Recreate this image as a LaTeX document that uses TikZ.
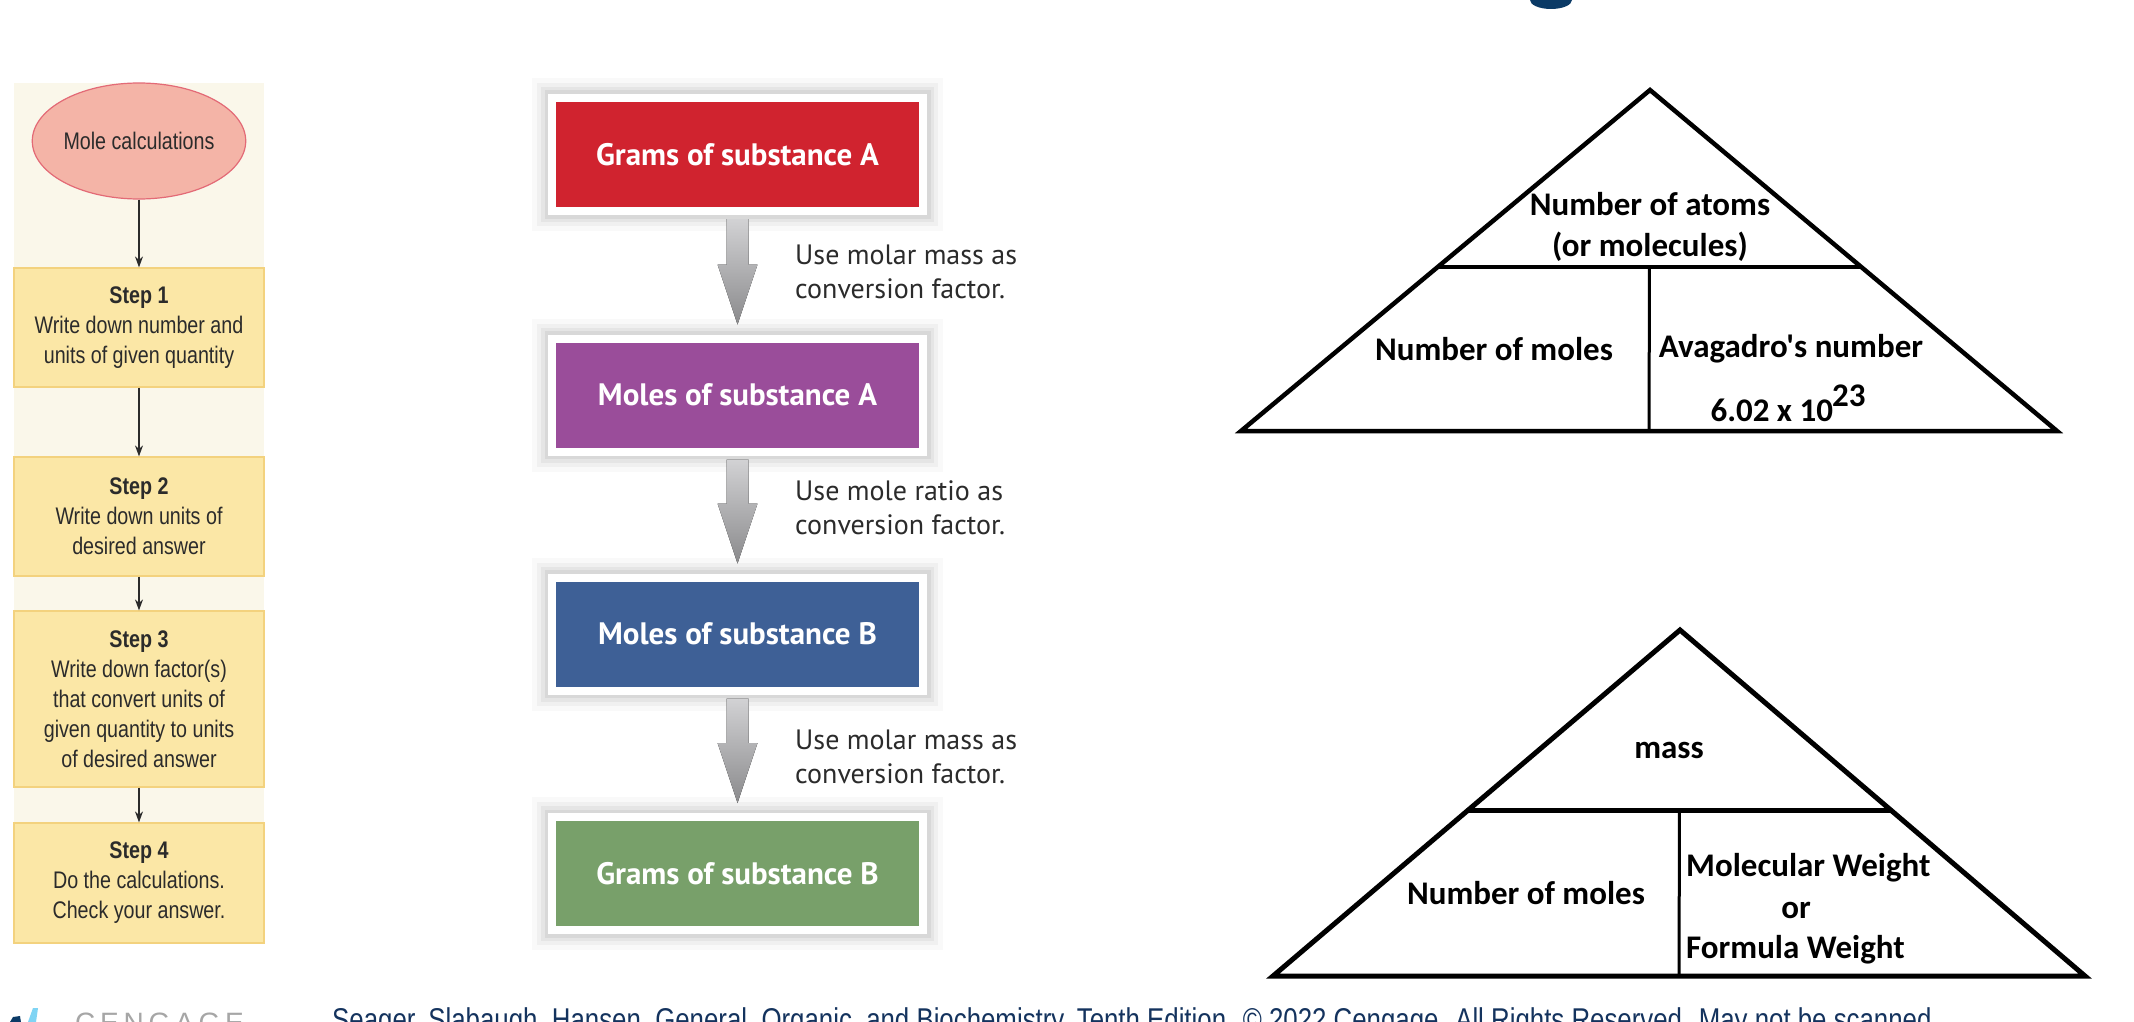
\documentclass[tikz,border=0pt]{standalone}
\usepackage{fontspec}
\setmainfont{Liberation Sans}
\newfontfamily\narrowsans[FakeStretch=0.82]{Liberation Sans}
\newfontfamily\myriad{PT Sans}
\newfontfamily\calib{Carlito}
\usetikzlibrary{calc,shapes.geometric,arrows.meta}
\definecolor{panelbg}{HTML}{FAF7EA}
\definecolor{stepfill}{HTML}{FBE7A6}
\definecolor{stepborder}{HTML}{F3D27E}
\definecolor{ellfill}{HTML}{F4B4A7}
\definecolor{elldraw}{HTML}{E36A76}
\definecolor{textdark}{HTML}{2B2B2B}
\definecolor{cred}{HTML}{D0232F}
\definecolor{cpurple}{HTML}{9A4D9A}
\definecolor{cblue}{HTML}{3E6096}
\definecolor{cgreen}{HTML}{78A06A}
\definecolor{arrtop}{HTML}{D2D2D4}
\definecolor{arrbot}{HTML}{8A8A8C}
\definecolor{navy}{HTML}{0B3A66}
\definecolor{footnavy}{HTML}{14335E}
\definecolor{logoblue}{HTML}{7FD4F4}
\newcommand\grayarrow[2]{%
  \fill[top color=arrtop,bottom color=arrbot]
    ($(#1.south)+(-11,4)$) -- ($(#1.south)+(11,4)$) -- ($(#2.north)+(11,-70)$)
    -- ($(#2.north)+(20,-70)$) -- ($(#2.north)+(0,-10)$) -- ($(#2.north)+(-20,-70)$)
    -- ($(#2.north)+(-11,-70)$) -- cycle;}
\begin{document}
\begin{tikzpicture}[x=1pt,y=-1pt,
  stepbox/.style={draw=stepborder, fill=stepfill, line width=1.2pt, minimum width=250pt,
    inner sep=0pt, align=center, text=textdark, font=\narrowsans\fontsize{24}{30}\selectfont},
  thinarrow/.style={draw=textdark, line width=1.4pt, -{Stealth[length=11pt,width=8pt]}},
  midbox/.style={draw=white, line width=8pt, minimum width=371pt, minimum height=113pt,
    text=white, font=\myriad\bfseries\fontsize{31}{36}\selectfont,
    preaction={draw=black, draw opacity=0.025, line width=40pt},
    preaction={draw=black, draw opacity=0.035, line width=30pt},
    preaction={draw=black, draw opacity=0.045, line width=22pt},
    preaction={draw=black, draw opacity=0.055, line width=15pt}},
  convlabel/.style={anchor=west, align=left, inner sep=0pt, text=textdark,
    font=\myriad\fontsize{28}{34}\selectfont},
  triline/.style={draw=black, line width=4.5pt, line join=miter},
  tritext/.style={inner sep=0pt, align=center, font=\calib\bfseries\fontsize{33}{41}\selectfont}
]
\useasboundingbox (0,0) rectangle (2134,1022);
\clip (0,0) rectangle (2134,1022);
\fill[white] (0,0) rectangle (2134,1022);

% top cut-off glyph
\fill[navy] (1551,0) ellipse [x radius=21, y radius=9];

% ---------------- left panel ----------------
\fill[panelbg] (14,83) rectangle (264,943);
\node[ellipse, draw=elldraw, fill=ellfill, line width=1.2pt, minimum width=198pt, minimum height=116pt,
  inner sep=0pt, text=textdark, font=\narrowsans\fontsize{24}{30}\selectfont] (mole) at (139,141) {Mole calculations};
\node[stepbox, minimum height=119pt] (s1) at (139,327.5) {\textbf{Step 1}\\Write down number and\\units of given quantity};
\node[stepbox, minimum height=119pt] (s2) at (139,516.5) {\textbf{Step 2}\\Write down units of\\desired answer};
\node[stepbox, minimum height=176pt] (s3) at (139,699) {\textbf{Step 3}\\Write down factor(s)\\that convert units of\\given quantity to units\\of desired answer};
\node[stepbox, minimum height=120pt] (s4) at (139,883) {\textbf{Step 4}\\Do the calculations.\\Check your answer.};
\draw[thinarrow] (mole.south) -- (s1.north);
\draw[thinarrow] (s1.south) -- (s2.north);
\draw[thinarrow] (s2.south) -- (s3.north);
\draw[thinarrow] (s3.south) -- (s4.north);

% ---------------- middle flow ----------------
\node[midbox, fill=cred] (ga) at (737.5,154.5) {Grams of substance A};
\node[midbox, fill=cpurple] (ma) at (737.5,395) {Moles of substance A};
\node[midbox, fill=cblue] (mb) at (737.5,634) {Moles of substance B};
\node[midbox, fill=cgreen] (gb) at (737.5,873.5) {Grams of substance B};
\grayarrow{ga}{ma}
\grayarrow{ma}{mb}
\grayarrow{mb}{gb}
\node[convlabel] (l1) at (795,272) {Use molar mass as\\conversion factor.};
\node[convlabel] (l2) at (795,508) {Use mole ratio as\\conversion factor.};
\node[convlabel] (l3) at (795,757) {Use molar mass as\\conversion factor.};

% ---------------- top triangle ----------------
\coordinate (Ta) at (1650,90);
\coordinate (Tl) at (1241,431);
\coordinate (Tr) at (2057,431);
\draw[triline] (Ta) -- (Tl) -- (Tr) -- cycle;
\coordinate (Tdl) at ($(Ta)!0.519!(Tl)$);
\coordinate (Tdr) at ($(Ta)!0.519!(Tr)$);
\draw[triline] (Tdl) -- (Tdr);
\coordinate (Tvt) at ($(Tdl)!0.5!(Tdr)$);
\coordinate (Tvb) at ($(Tl)!0.5!(Tr)$);
\draw[draw=black, line width=3pt] (Tvt) -- (Tvb);
\node[tritext] (atoms) at (1650,227) {Number of atoms\\(or molecules)};
\node[tritext] (nm1) at (1494,349) {Number of moles};
\node[tritext] (avo) at (1791,349) {Avagadro's number};
\node[tritext] (avn) at (1788,403) {6.02 x 10\kern-1pt\raisebox{0.45em}{23}};

% ---------------- bottom triangle ----------------
\coordinate (Ba) at (1680,630);
\coordinate (Bl) at (1273,976);
\coordinate (Br) at (2085,976);
\draw[triline, line width=5pt] (Ba) -- (Bl) -- (Br) -- cycle;
\coordinate (Bdl) at ($(Ba)!0.523!(Bl)$);
\coordinate (Bdr) at ($(Ba)!0.523!(Br)$);
\draw[triline, line width=5pt] (Bdl) -- (Bdr);
\coordinate (Bvt) at ($(Bdl)!0.5!(Bdr)$);
\coordinate (Bvb) at ($(Bl)!0.5!(Br)$);
\draw[draw=black, line width=3pt] (Bvt) -- (Bvb);
\node[tritext] (mass) at (1669,750) {mass};
\node[tritext] (nm2) at (1526,893) {Number of moles};
\node[tritext, anchor=west] (mw) at (1686,868) {Molecular Weight};
\node[tritext] (orw) at (1796,910) {or};
\node[tritext, anchor=west] (fw) at (1686,950) {Formula Weight};

% ---------------- footer ----------------
\fill[navy] (10,1022) -- (13,1017) -- (20,1016) -- (21,1022) -- cycle;
\fill[logoblue] (28,1022) -- (33,1008) -- (38,1008) -- (36,1022) -- cycle;
\node[anchor=north west, inner sep=0pt, text=gray!70, font=\fontsize{28}{30}\selectfont] (logo) at (75,1013)
  {\addfontfeature{LetterSpace=17}CENGAGE};
\node[anchor=north west, inner sep=0pt, text=footnavy, font=\narrowsans\fontsize{31.5}{34}\selectfont] (foot) at (332,1007)
  {Seager, Slabaugh, Hansen, General, Organic, and Biochemistry, Tenth Edition. \textcopyright\ 2022 Cengage. All Rights Reserved. May not be scanned};
\end{tikzpicture}
\end{document}
